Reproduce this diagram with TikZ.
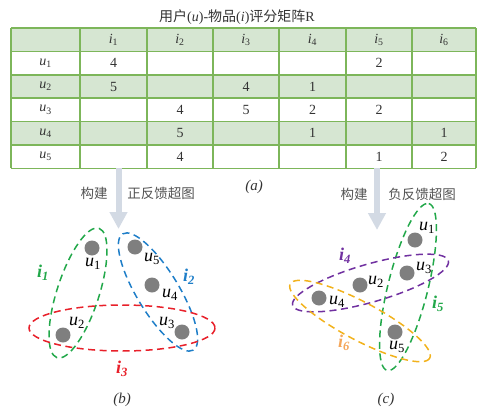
\documentclass[tikz,border=0pt]{standalone}
\usepackage{fontspec}
\setmainfont{Liberation Serif}
\newfontfamily\cjk{Noto Sans CJK SC}
\usetikzlibrary{arrows.meta}
\definecolor{tgreen}{HTML}{D6E6D2}
\definecolor{tborder}{HTML}{7DB65A}
\definecolor{egreen}{HTML}{22A84A}
\definecolor{eblue}{HTML}{1E7EC8}
\definecolor{ered}{HTML}{E8202A}
\definecolor{epurple}{HTML}{7030A0}
\definecolor{eyellow}{HTML}{F2B21C}
\definecolor{elorange}{HTML}{F4A65A}
\definecolor{dotgray}{HTML}{7F7F7F}
\definecolor{arrowc}{HTML}{D3DAE4}
\definecolor{txtgray}{HTML}{333333}
\tikzset{
  cell/.style={font=\fontsize{14}{16}\selectfont, text=txtgray, inner sep=0pt},
  dot/.style={circle, fill=dotgray, minimum size=15pt, inner sep=0pt},
  ulab/.style={font=\fontsize{18}{20}\selectfont, inner sep=0pt},
  ilab/.style={font=\fontsize{18}{20}\selectfont\bfseries\itshape, inner sep=0pt},
  hedge/.style={dashed, dash pattern=on 7pt off 4.5pt, line width=1.5pt},
  bigarrow/.style={draw=arrowc, line width=6pt, -{Triangle[width=17pt,length=17pt]}},
  cjklab/.style={font=\cjk\fontsize{13.5}{15}\selectfont, text=txtgray!85, inner sep=0pt},
  captext/.style={font=\fontsize{15}{17}\selectfont\itshape, text=txtgray, inner sep=0pt}
}
\begin{document}
\begin{tikzpicture}[x=1pt,y=-1pt]
\useasboundingbox (0,0) rectangle (477,410);
% title
\node[font=\fontsize{14}{16}\selectfont, text=txtgray, inner sep=0pt] (title) at (237,17)
  {\cjk 用户\normalfont(\textit{u})-\cjk 物品\normalfont(\textit{i})\cjk 评分矩阵\normalfont R};
% table fills
\fill[tgreen] (11,28) rectangle (476,51.4);
\fill[tgreen] (11,74.8) rectangle (476,98.2);
\fill[tgreen] (11,121.6) rectangle (476,145);
\foreach \y in {28,51.4,74.8,98.2,121.6,145,168.4}
  \draw[tborder, line width=1.5pt] (11,\y) -- (476,\y);
\foreach \x in {11,80,147,213,279,346,412,476}
  \draw[tborder, line width=1.5pt] (\x,28) -- (\x,168.4);
% header
\foreach \c/\x in {1/113.5,2/180,3/246,4/312.5,5/379,6/444}
  \node[cell] (h\c) at (\x,39.7) {\textit{i}\textsubscript{\c}};
\foreach \r/\y in {1/63.1,2/86.5,3/109.9,4/133.3,5/156.7}
  \node[cell] (r\r) at (45.5,\y) {\textit{u}\textsubscript{\r}};
% values
\foreach \r/\c/\v in {1/1/4,1/5/2,2/1/5,2/3/4,2/4/1,3/2/4,3/3/5,3/4/2,3/5/2,4/2/5,4/4/1,4/6/1,5/2/4,5/5/1,5/6/2}{
  \node[cell] (v\r\c) at (h\c |- r\r) {\v};
}
% arrows
\coordinate (la0) at (118.5,168.4);
\coordinate (la1) at (118.5,229);
\coordinate (ra0) at (377,168.4);
\coordinate (ra1) at (377,230);
\draw[bigarrow] (la0) -- (la1);
\draw[bigarrow] (ra0) -- (ra1);
\node[cjklab] (lb1) at (94,193) {构建};
\node[cjklab] (lb2) at (161,193) {正反馈超图};
\node[cjklab] (rb1) at (354,194) {构建};
\node[cjklab] (rb2) at (422,194) {负反馈超图};
\node[captext] (capa) at (254,187) {(a)};
\node[captext] (capb) at (122,400) {(b)};
\node[captext] (capc) at (386,400) {(c)};
% panel b
\draw[hedge, egreen, rotate around={72:(78,293)}] (78,293) ellipse (68 and 21);
\draw[hedge, eblue, rotate around={-58.7:(158,292)}] (158,292) ellipse (68 and 21);
\draw[hedge, ered] (122,328) ellipse (93 and 23);
\node[dot] (bu1) at (92,248) {};
\node[dot] (bu5) at (135,247) {};
\node[dot] (bu4) at (152,285) {};
\node[dot] (bu2) at (63,335) {};
\node[dot] (bu3) at (182,332) {};
\node[ulab] (lbu1) at (93,264) {\textit{u}\textsubscript{1}};
\node[ulab] (lbu5) at (152,259) {\textit{u}\textsubscript{5}};
\node[ulab] (lbu4) at (170,295) {\textit{u}\textsubscript{4}};
\node[ulab] (lbu2) at (77,323) {\textit{u}\textsubscript{2}};
\node[ulab] (lbu3) at (167,323) {\textit{u}\textsubscript{3}};
\node[ilab, text=egreen] (li1) at (43,273) {i\textsubscript{1}};
\node[ilab, text=eblue] (li2) at (189,277) {i\textsubscript{2}};
\node[ilab, text=ered] (li3) at (122,369) {i\textsubscript{3}};
% panel c
\draw[hedge, egreen, rotate around={76:(408,287)}] (408,287) ellipse (86 and 20);
\draw[hedge, epurple, rotate around={16:(370.5,283)}] (370.5,283) ellipse (81 and 19);
\draw[hedge, eyellow, rotate around={-28:(360,321)}] (360,321) ellipse (79 and 19);
\node[dot] (cu1) at (415,240) {};
\node[dot] (cu3) at (407,273) {};
\node[dot] (cu2) at (360,285) {};
\node[dot] (cu4) at (319,298) {};
\node[dot] (cu5) at (395,332) {};
\node[ulab] (lcu1) at (427,228) {\textit{u}\textsubscript{1}};
\node[ulab] (lcu3) at (424,268) {\textit{u}\textsubscript{3}};
\node[ulab] (lcu2) at (376,282) {\textit{u}\textsubscript{2}};
\node[ulab] (lcu4) at (337,302) {\textit{u}\textsubscript{4}};
\node[ulab] (lcu5) at (397,347) {\textit{u}\textsubscript{5}};
\node[ilab, text=epurple] (li4) at (345,256) {i\textsubscript{4}};
\node[ilab, text=egreen] (li5) at (438,304) {i\textsubscript{5}};
\node[ilab, text=elorange] (li6) at (344,343) {i\textsubscript{6}};
\end{tikzpicture}
\end{document}
